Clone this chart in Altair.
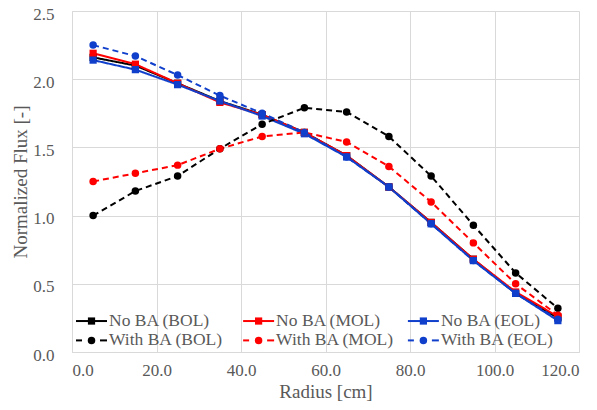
import altair as alt
import pandas as pd

radius = [5, 15, 25, 35, 45, 55, 65, 75, 85, 95, 105, 115]

series_names = ["No BA (BOL)", "No BA (MOL)", "No BA (EOL)",
                "With BA (BOL)", "With BA (MOL)", "With BA (EOL)"]

no_ba_bol = [2.16, 2.10, 1.97, 1.84, 1.74, 1.61, 1.44, 1.21, 0.95, 0.68, 0.43, 0.25]
no_ba_mol = [2.19, 2.11, 1.97, 1.83, 1.74, 1.61, 1.44, 1.21, 0.95, 0.68, 0.44, 0.26]
no_ba_eol = [2.14, 2.07, 1.96, 1.84, 1.73, 1.60, 1.43, 1.21, 0.94, 0.67, 0.43, 0.23]
with_ba_bol = [1.00, 1.18, 1.29, 1.49, 1.67, 1.79, 1.76, 1.58, 1.29, 0.93, 0.58, 0.32]
with_ba_mol = [1.25, 1.31, 1.37, 1.49, 1.58, 1.61, 1.54, 1.36, 1.10, 0.80, 0.50, 0.27]
with_ba_eol = [2.25, 2.17, 2.03, 1.88, 1.75, 1.61, 1.43, 1.21, 0.94, 0.67, 0.43, 0.24]

all_values = [no_ba_bol, no_ba_mol, no_ba_eol, with_ba_bol, with_ba_mol, with_ba_eol]

colors = ["#000000", "#FF0000", "#0F3FCB", "#000000", "#FF0000", "#0F3FCB"]
dashes = [[1, 0], [1, 0], [1, 0], [6, 4], [6, 4], [6, 4]]

# legend layout (in data units of the chart's own scales)
legend_col = [0, 1, 2, 0, 1, 2]
legend_row = [0, 0, 0, 1, 1, 1]
legend_col_x = [0.95, 40.5, 79.5]
legend_row_y = [0.227, 0.085]

rows = []
for name, vals in zip(series_names, all_values):
    for r, v in zip(radius, vals):
        rows.append({"radius": r, "flux": v, "series": name,
                     "group": "No" if name.startswith("No") else "With"})
df = pd.DataFrame(rows)

PX = 120 / 507.0  # data units per pixel along x
seg_rows, mark_rows, label_rows = [], [], []
for name, c, r in zip(series_names, legend_col, legend_row):
    x0 = legend_col_x[c]
    y0 = legend_row_y[r]
    grp = "No" if name.startswith("No") else "With"
    if grp == "No":
        seg_rows.append({"radius": x0, "radius2": x0 + 31 * PX, "flux": y0, "series": name})
    else:
        seg_rows.append({"radius": x0, "radius2": x0 + 6 * PX, "flux": y0, "series": name})
        seg_rows.append({"radius": x0 + 24 * PX, "radius2": x0 + 31 * PX, "flux": y0, "series": name})
    mark_rows.append({"radius": x0 + 15.5 * PX, "flux": y0, "series": name, "group": grp})
    label_rows.append({"radius": x0 + 33 * PX, "flux": y0, "series": name})
seg_df = pd.DataFrame(seg_rows)
mark_df = pd.DataFrame(mark_rows)
label_df = pd.DataFrame(label_rows)

FONT = "Liberation Serif, Times New Roman, serif"
GRAY = "#595959"
GRID = "#d9d9d9"

x_enc = alt.X("radius:Q", scale=alt.Scale(domain=[0, 120], nice=False),
              axis=alt.Axis(values=[0, 20, 40, 60, 80, 100, 120], format=".1f",
                            title="Radius [cm]", labelPadding=10, titlePadding=4))
y_enc = alt.Y("flux:Q", scale=alt.Scale(domain=[0, 2.5], nice=False),
              axis=alt.Axis(values=[0, 0.5, 1.0, 1.5, 2.0, 2.5], format=".1f",
                            title="Normalized Flux [-]", labelPadding=18, titlePadding=2,
                            labelOffset=3))

color_scale = alt.Scale(domain=series_names, range=colors)
col = alt.Color("series:N", scale=color_scale, legend=None)

base = alt.Chart(df)

lines = base.mark_line(strokeWidth=2).encode(
    x=x_enc, y=y_enc, color=col,
    strokeDash=alt.StrokeDash("series:N", scale=alt.Scale(domain=series_names, range=dashes), legend=None),
)

squares = base.transform_filter(alt.datum.group == "No").mark_square(size=52, opacity=1).encode(
    x="radius:Q", y="flux:Q", color=col)

circles = base.transform_filter(alt.datum.group == "With").mark_circle(size=56, opacity=1).encode(
    x="radius:Q", y="flux:Q", color=col)

leg_lines = alt.Chart(seg_df).mark_rule(strokeWidth=2).encode(
    x="radius:Q", x2="radius2:Q", y="flux:Q", color=col)

leg_sq = alt.Chart(mark_df).transform_filter(alt.datum.group == "No").mark_square(size=52, opacity=1).encode(
    x="radius:Q", y="flux:Q", color=col)
leg_ci = alt.Chart(mark_df).transform_filter(alt.datum.group == "With").mark_circle(size=56, opacity=1).encode(
    x="radius:Q", y="flux:Q", color=col)

leg_text = alt.Chart(label_df).mark_text(align="left", baseline="middle", font=FONT,
                                         fontSize=17.5, color=GRAY).encode(
    x="radius:Q", y="flux:Q", text="series:N")

chart = alt.layer(lines, squares, circles, leg_lines, leg_sq, leg_ci, leg_text).properties(
    width=507, height=341,
    autosize=alt.AutoSizeParams(type="none"),
    padding={"left": 64, "top": 3, "right": 10, "bottom": 50},
).configure(background="white").configure_view(stroke=None).configure_axis(
    labelFont=FONT, labelFontSize=17, labelColor=GRAY,
    titleFont=FONT, titleFontSize=19, titleColor=GRAY, titleFontWeight="normal",
    grid=True, gridColor=GRID, domainColor=GRID, ticks=False,
)

chart.save("out.html", embed_options={"renderer": "svg", "actions": False})
